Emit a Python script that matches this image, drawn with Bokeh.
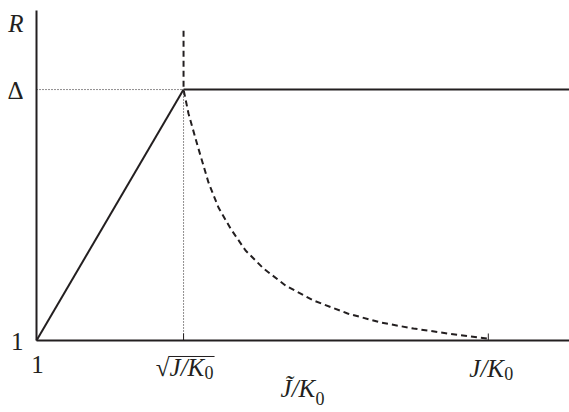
from bokeh.plotting import figure
from bokeh.models import Range1d
from bokeh.core.properties import value
from bokeh.embed import file_html
from bokeh.resources import INLINE

# ---- data ----
x_one = 1.0
x_sqrt = 2.074          # sqrt(J/K0)
x_J = 4.30              # J/K0
r_one = 1.0
delta = 4.5
r_top = 5.6025

rise_x = [x_one, x_sqrt]
rise_y = [r_one, delta]

curve_x = [2.074, 2.074, 2.110, 2.176, 2.256, 2.329, 2.417, 2.527, 2.658,
           2.819, 3.023, 3.272, 3.513, 3.754, 4.002, 4.294]
curve_y = [5.32, 4.50, 4.166, 3.720, 3.204, 2.855, 2.562, 2.255, 2.004,
           1.767, 1.558, 1.377, 1.251, 1.167, 1.098, 1.028]

x_ticks = [x_sqrt, x_J]

FONT = value("Liberation Serif")
BIG = value("25px")
SMALL = value("18px")
INK = "#231f20"

# view window (whole canvas is the plotting frame)
x_lo, x_hi = 0.737, 4.893
y_lo, y_hi = -0.0042, 5.742
W, H = 569, 412
px_x = (x_hi - x_lo) / W
px_y = (y_hi - y_lo) / H

p = figure(width=W, height=H,
           x_range=Range1d(x_lo, x_hi), y_range=Range1d(y_lo, y_hi),
           x_axis_type=None, y_axis_type=None, min_border=0,
           output_backend="svg", toolbar_location=None)
p.xgrid.visible = False
p.ygrid.visible = False
p.outline_line_color = None

# axes
p.line([x_one, x_hi], [r_one, r_one], line_color=INK, line_width=2)
p.line([x_one, x_one], [r_one, r_top], line_color=INK, line_width=2)
p.segment(x0=x_ticks, y0=[r_one] * len(x_ticks), x1=x_ticks,
          y1=[r_one + 7 * px_y] * len(x_ticks), line_color=INK, line_width=1)

# dotted guides
p.line([x_one, x_sqrt], [delta, delta], line_color=INK, line_width=1, line_dash="1 2")
p.line([x_sqrt, x_sqrt], [r_one, delta], line_color=INK, line_width=1, line_dash="1 2")

# solid lines
p.line(rise_x, rise_y, line_color=INK, line_width=2)
p.line([x_sqrt, x_hi], [delta, delta], line_color=INK, line_width=2)

# dashed curve
p.line(curve_x, curve_y, line_color=INK, line_width=2, line_dash="6 4")

SHIFT = -9  # renderer baseline correction (px)


def lab(x, y, text, dx, dy, align="left", size=BIG, style="normal"):
    # dx, dy: screen pixels, dy positive = downwards
    p.text(x=[x], y=[y], text=[text], x_offset=dx, y_offset=dy + SHIFT,
           text_align=align, text_baseline="alphabetic",
           text_font=FONT, text_font_size=size,
           text_font_style=style, text_color=INK)


# left labels
lab(x_one, r_top, "R", -13, 22, "right", style="italic")
lab(x_one, delta, "Δ", -13, 10, "right")
lab(x_one, r_one, "1", -13, 10, "right")
# x tick labels
lab(x_one, r_one, "1", 1, 33, "center")
lab(x_sqrt, r_one, "√", -14, 36, "right")
lab(x_sqrt, r_one, "J/K", -14, 36, "left", style="italic")
lab(x_sqrt, r_one, "0", 21, 41, "left", size=SMALL)
lab(x_J, r_one, "J/K", -19, 37, "left", style="italic")
lab(x_J, r_one, "0", 16, 42, "left", size=SMALL)

# overline of the root sign (pixel lengths converted through the scale)
p.line([x_sqrt - 15 * px_x, x_sqrt + 31 * px_x],
       [r_one - 16 * px_y, r_one - 16 * px_y],
       line_color=INK, line_width=1)

# axis title  J~/K0
x_title = x_sqrt + 97 * px_x
lab(x_title, r_one, "J̃/K", 0, 57, "left", style="italic")
lab(x_title, r_one, "0", 35, 67, "left", size=SMALL)

open("out.html", "w").write(file_html(p, INLINE))
